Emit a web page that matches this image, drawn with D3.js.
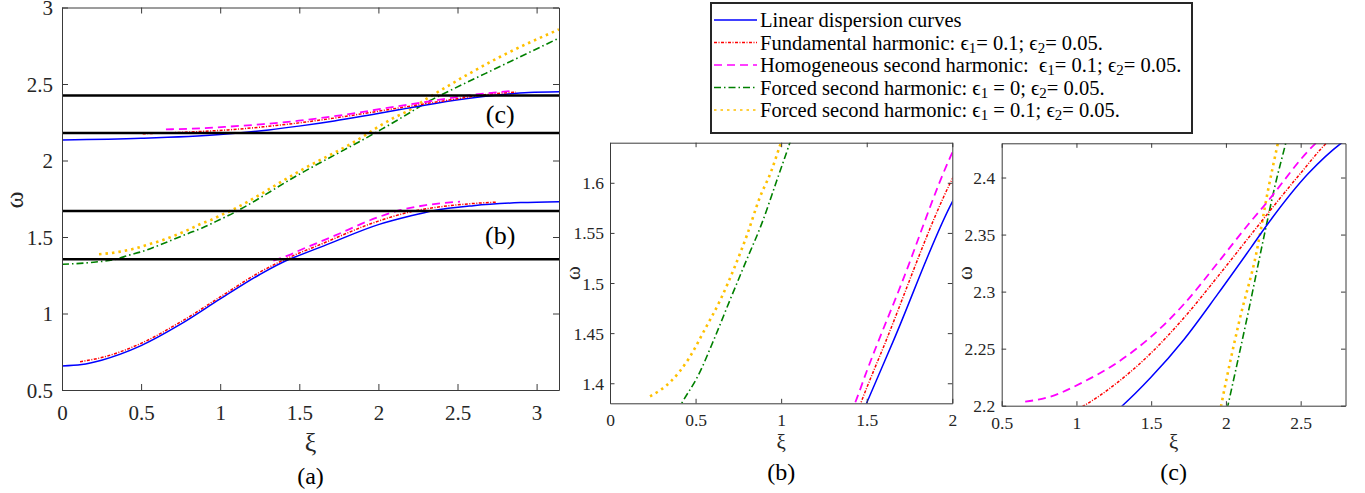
<!DOCTYPE html>
<html>
<head>
<meta charset="utf-8">
<script src="https://cdn.jsdelivr.net/npm/d3@7/dist/d3.min.js"></script>
<style>
  html, body { margin: 0; padding: 0; background: #fff; }
  svg { display: block; }
  text { font-family: "Liberation Serif", "Times New Roman", serif; fill: #262626; }
</style>
</head>
<body>
<svg id="chart" width="1365" height="493"></svg>
<script>
// Dispersion branches, [ξ, ω] pairs
const linearLow = [[0,0.657],[0.125,0.666],[0.25,0.695],[0.5,0.79],[0.75,0.93],[1,1.095],[1.25,1.255],[1.44,1.356],[1.499,1.38],[1.655,1.442],[2,1.581],[2.2,1.637],[2.346,1.672],[2.6,1.705],[2.9,1.725],[3.1416,1.731]];
const linearHigh = [[0,2.134],[0.5,2.145],[1,2.17],[1.307,2.2],[1.497,2.2247],[1.721,2.2583],[1.946,2.298],[2.17,2.339],[2.282,2.3597],[2.551,2.4035],[2.77,2.43],[2.95,2.445],[3.1416,2.45]];
const fundamentalLow = [[0.114,0.685],[0.25,0.712],[0.5,0.805],[0.75,0.945],[1,1.108],[1.25,1.27],[1.465,1.38],[1.6,1.437],[2,1.604],[2.2,1.664],[2.5,1.71],[2.747,1.728]];
const fundamentalHigh = [[0.51,2.175],[0.8,2.186],[1.049,2.2],[1.273,2.2202],[1.497,2.2459],[1.721,2.2773],[1.946,2.3133],[2.17,2.3503],[2.304,2.3724],[2.5,2.4038],[2.686,2.4317],[2.87,2.447]];
const homogeneousLow = [[1.336,1.346],[1.431,1.38],[1.5,1.412],[1.7,1.498],[2,1.63],[2.137,1.675],[2.3,1.708],[2.516,1.731]];
const homogeneousHigh = [[0.657,2.2035],[0.825,2.2079],[1.049,2.221],[1.273,2.2378],[1.497,2.2602],[1.721,2.2893],[1.946,2.3253],[2.148,2.3586],[2.259,2.3758],[2.585,2.428],[2.85,2.455]];
const forcedEps0 = [[0,1.322],[0.2,1.335],[0.345,1.356],[0.419,1.38],[0.516,1.408],[0.613,1.446],[0.701,1.483],[0.798,1.523],[0.886,1.559],[0.974,1.602],[1.051,1.64],[1.5,1.91],[2.013,2.2],[2.148,2.281],[2.259,2.351],[2.327,2.392],[2.4,2.43],[2.8,2.63],[3.1416,2.8]];
const forcedEps01 = [[0.234,1.387],[0.36,1.4026],[0.458,1.424],[0.555,1.454],[0.646,1.4836],[0.726,1.515],[0.802,1.5486],[0.876,1.5857],[0.94,1.6106],[0.993,1.637],[1.062,1.67],[1.5,1.93],[1.936,2.178],[1.968,2.2],[2.091,2.275],[2.203,2.3334],[2.282,2.389],[2.349,2.431],[2.77,2.678],[3.1416,2.857]];

// Frequency levels bounding the two zoomed windows
const bandLevels = [1.355, 1.67, 2.18, 2.425];
const bandNames = ["(b)", "(c)"];

// Tick values
const ticksAx = [0, 0.5, 1, 1.5, 2, 2.5, 3];
const ticksAy = [0.5, 1, 1.5, 2, 2.5, 3];
const ticksBx = [0, 0.5, 1, 1.5, 2];
const ticksBy = [1.4, 1.45, 1.5, 1.55, 1.6];
const ticksCx = [0.5, 1, 1.5, 2, 2.5];
const ticksCy = [2.2, 2.25, 2.3, 2.35, 2.4];

// Legend entries: plain text pieces and subscripts
const legendRows = [
  [["Linear dispersion curves"]],
  [["Fundamental harmonic: \u03F5"], ["1", "sub"], ["= 0.1; \u03F5"], ["2", "sub"], ["= 0.05."]],
  [["Homogeneous second harmonic:  \u03F5"], ["1", "sub"], ["= 0.1; \u03F5"], ["2", "sub"], ["= 0.05."]],
  [["Forced second harmonic: \u03F5"], ["1", "sub"], [" = 0; \u03F5"], ["2", "sub"], ["= 0.05."]],
  [["Forced second harmonic: \u03F5"], ["1", "sub"], [" = 0.1; \u03F5"], ["2", "sub"], ["= 0.05."]]
];

const styles = {
  linear:      { color: "#0000ff", width: 1.5, dash: null },
  fundamental: { color: "#ff0000", width: 1.5, dash: "3,1.5,1,1.5" },
  homogeneous: { color: "#ff00ff", width: 1.8, dash: "8,5" },
  forced0:     { color: "#008000", width: 1.6, dash: "7,3,1.5,3" },
  forced01:    { color: "#ffc000", width: 2.6, dash: "2.5,4" }
};

const seriesList = [
  { data: forcedEps0, style: "forced0" },
  { data: forcedEps01, style: "forced01" },
  { data: linearLow, style: "linear" },
  { data: linearHigh, style: "linear" },
  { data: fundamentalLow, style: "fundamental" },
  { data: fundamentalHigh, style: "fundamental" },
  { data: homogeneousLow, style: "homogeneous" },
  { data: homogeneousHigh, style: "homogeneous" }
];
const legendStyles = ["linear", "fundamental", "homogeneous", "forced0", "forced01"];

const svg = d3.select("#chart");
const axisColor = "#3a3a3a";

const panels = [
  { id: "a", left: 62, right: 559, top: 7.5, bottom: 390,
    xDomain: [0, Math.PI], yDomain: [0.5, 3], xTicks: ticksAx, yTicks: ticksAy,
    font: 21, tick: 6, xLabY: 442, yLabX: 14, yLabY: 200, labFont: 26,
    capY: 476, xTickDy: 23, yTickDx: 9, bands: true },
  { id: "b", left: 610, right: 952.3, top: 142.7, bottom: 403.3,
    xDomain: [0, 2], yDomain: [1.38, 1.64], xTicks: ticksBx, yTicks: ticksBy,
    font: 17.5, tick: 4.5, xLabY: 442, yLabX: 573, yLabY: 273, labFont: 21,
    capY: 472, xTickDy: 17, yTickDx: 6, bands: false },
  { id: "c", left: 1001.7, right: 1345.5, top: 143.3, bottom: 405.7,
    xDomain: [0.5, 2.8], yDomain: [2.2, 2.43], xTicks: ticksCx, yTicks: ticksCy,
    font: 17.5, tick: 4.5, xLabY: 442, yLabX: 965, yLabY: 273, labFont: 21,
    capY: 472, xTickDy: 17, yTickDx: 6.5, bands: false }
];

panels.forEach(p => {
  const x = d3.scaleLinear().domain(p.xDomain).range([p.left, p.right]);
  const y = d3.scaleLinear().domain(p.yDomain).range([p.bottom, p.top]);
  const g = svg.append("g");

  g.append("clipPath").attr("id", "clip-" + p.id)
    .append("rect").attr("x", p.left).attr("y", p.top)
    .attr("width", p.right - p.left).attr("height", p.bottom - p.top);

  const plot = g.append("g").attr("clip-path", "url(#clip-" + p.id + ")");

  const line = d3.line().x(d => x(d[0])).y(d => y(d[1])).curve(d3.curveMonotoneX);
  seriesList.forEach(s => {
    const st = styles[s.style];
    plot.append("path").datum(s.data)
      .attr("d", line)
      .attr("fill", "none")
      .attr("stroke", st.color)
      .attr("stroke-width", st.width)
      .attr("stroke-dasharray", st.dash);
  });

  if (p.bands) {
    bandLevels.forEach(v => {
      plot.append("line")
        .attr("x1", p.left).attr("x2", p.right)
        .attr("y1", y(v)).attr("y2", y(v))
        .attr("stroke", "#000").attr("stroke-width", 2.6);
    });
    bandNames.forEach((name, i) => {
      const mid = (bandLevels[2 * i] + bandLevels[2 * i + 1]) / 2;
      g.append("text").attr("x", x(2.77)).attr("y", y(mid))
        .attr("text-anchor", "middle").attr("dominant-baseline", "central")
        .attr("font-size", 26).style("fill", "#000").text(name);
    });
  }

  // Box axes with inward ticks on all four sides
  const axB = d3.axisBottom(x).tickValues(p.xTicks).tickSizeInner(-p.tick).tickSizeOuter(0)
    .tickPadding(p.xTickDy - 6).tickFormat(d => String(d));
  const axT = d3.axisTop(x).tickValues(p.xTicks).tickSizeInner(-p.tick).tickSizeOuter(0).tickFormat("");
  const axL = d3.axisLeft(y).tickValues(p.yTicks).tickSizeInner(-p.tick).tickSizeOuter(0)
    .tickPadding(p.yTickDx).tickFormat(d => String(d));
  const axR = d3.axisRight(y).tickValues(p.yTicks).tickSizeInner(-p.tick).tickSizeOuter(0).tickFormat("");

  const gb = g.append("g").attr("transform", `translate(0,${p.bottom})`).call(axB);
  const gt = g.append("g").attr("transform", `translate(0,${p.top})`).call(axT);
  const gl = g.append("g").attr("transform", `translate(${p.left},0)`).call(axL);
  const gr = g.append("g").attr("transform", `translate(${p.right},0)`).call(axR);
  [gb, gt, gl, gr].forEach(a => {
    a.attr("font-family", null);
    a.select(".domain").attr("stroke", axisColor).attr("stroke-width", 1);
    a.selectAll(".tick line").attr("stroke", axisColor).attr("stroke-width", 1);
    a.selectAll(".tick text").attr("font-size", p.font).style("fill", "#262626");
  });
  gb.selectAll(".tick text").attr("dy", null).attr("y", p.xTickDy)
    .attr("dominant-baseline", "central");
  gl.selectAll(".tick text").attr("dy", null).attr("dominant-baseline", "central");

  const cx = (p.left + p.right) / 2;
  g.append("text").attr("x", cx).attr("y", p.xLabY)
    .attr("text-anchor", "middle").attr("dominant-baseline", "central")
    .attr("font-size", p.labFont).text("\u03BE");
  g.append("text")
    .attr("transform", `translate(${p.yLabX},${p.yLabY}) rotate(-90)`)
    .attr("text-anchor", "middle").attr("dominant-baseline", "central")
    .attr("font-size", p.labFont).text("\u03C9");
  g.append("text").attr("x", cx).attr("y", p.capY)
    .attr("text-anchor", "middle").attr("dominant-baseline", "central")
    .attr("font-size", 24).style("fill", "#000").text("(" + p.id + ")");
});

// Legend
const lg = svg.append("g");
const lgBox = { x: 711, y: 3, w: 481, h: 130 };
lg.append("rect").attr("x", lgBox.x).attr("y", lgBox.y)
  .attr("width", lgBox.w).attr("height", lgBox.h)
  .attr("fill", "#fff").attr("stroke", "#262626").attr("stroke-width", 2);
const rowY = d3.scaleLinear().domain([0, 4]).range([20, 110]);
legendRows.forEach((row, i) => {
  const st = styles[legendStyles[i]];
  const yy = rowY(i);
  lg.append("line").attr("x1", 714).attr("x2", 757).attr("y1", yy).attr("y2", yy)
    .attr("stroke", st.color).attr("stroke-width", Math.min(st.width, 1.6))
    .attr("stroke-dasharray", st.dash);
  const t = lg.append("text").attr("x", 760).attr("y", yy)
    .attr("dominant-baseline", "central").attr("font-size", 20.5)
    .style("fill", "#000").attr("xml:space", "preserve").style("white-space", "pre");
  let shifted = false;
  row.forEach(([str, kind]) => {
    const ts = t.append("tspan").text(str);
    if (kind === "sub") {
      ts.attr("font-size", 15).attr("dy", 5);
      shifted = true;
    } else if (shifted) {
      ts.attr("dy", -5);
      shifted = false;
    }
  });
});
</script>
</body>
</html>
